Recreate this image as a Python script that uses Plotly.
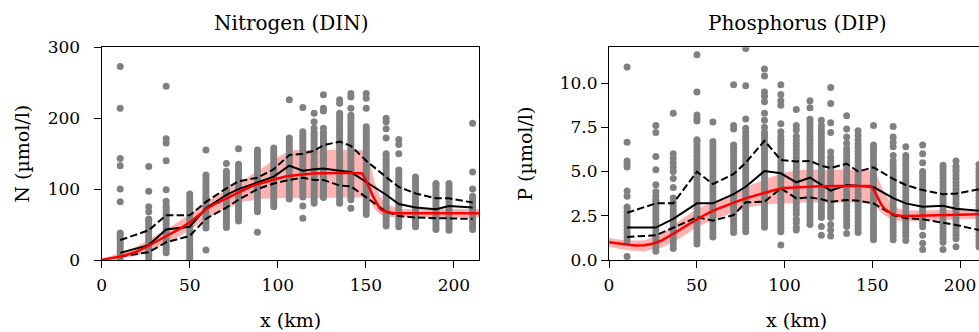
import plotly.graph_objects as go

# ---------------- data ----------------
n_stations = [10.5, 26.7, 36.6, 50.0, 59.2, 70.8, 77.7, 88.4, 97.7, 106.5, 114.2,
              120.6, 125.9, 135.1, 141.5, 150.2, 161.5, 168.7, 178.2, 189.8, 197.2, 210.6]
n_obs = [
    [0, 4, 8, 12, 16, 20, 24, 28, 32, 36, 38, 82, 100, 133, 143, 214, 273],
    [0, 4, 8, 12, 16, 20, 24, 28, 32, 36, 40, 44, 48, 52, 56, 58, 68, 75, 97, 132],
    [10, 14, 18, 22, 26, 30, 34, 38, 42, 46, 50, 54, 58, 62, 66, 70, 74, 77, 83, 99, 140, 165, 171, 245],
    [0, 4, 8, 12, 16, 20, 24, 28, 32, 36, 40, 44, 48, 52, 56, 60, 64, 68, 72, 76, 80, 84, 88, 93],
    [14, 45, 49, 53, 57, 61, 65, 69, 73, 77, 81, 85, 89, 93, 97, 101, 105, 109, 113, 117, 120, 155],
    [46, 50, 54, 58, 62, 66, 70, 74, 78, 82, 86, 90, 94, 98, 102, 106, 110, 114, 118, 122, 125, 136],
    [55, 59, 63, 67, 71, 75, 79, 83, 87, 91, 95, 99, 103, 107, 111, 115, 119, 123, 127, 131, 135, 157],
    [39, 68, 72, 76, 80, 84, 88, 92, 96, 100, 104, 108, 112, 116, 120, 124, 128, 132, 136, 140, 144, 148, 152, 155],
    [75, 79, 83, 87, 91, 95, 99, 103, 107, 111, 115, 119, 123, 127, 131, 135, 139, 143, 147, 151, 155, 158],
    [86, 90, 94, 98, 102, 106, 110, 114, 118, 122, 126, 130, 134, 138, 142, 146, 150, 154, 158, 162, 166, 170, 172, 226],
    [59, 76, 89, 93, 97, 101, 105, 109, 113, 117, 121, 125, 129, 133, 137, 141, 145, 149, 153, 157, 161, 165, 169, 173, 177, 181, 215],
    [80, 84, 88, 92, 96, 100, 104, 108, 112, 116, 120, 124, 128, 132, 136, 140, 144, 148, 152, 156, 160, 164, 168, 172, 176, 180, 186, 195, 207],
    [88, 92, 96, 100, 104, 108, 112, 116, 120, 124, 128, 132, 136, 140, 144, 148, 152, 156, 160, 164, 168, 172, 176, 180, 186, 210, 214, 233],
    [80, 84, 88, 92, 96, 100, 104, 108, 112, 116, 120, 124, 128, 132, 136, 140, 144, 148, 152, 156, 160, 164, 168, 172, 176, 180, 184, 188, 192, 196, 200, 204, 207, 221, 226],
    [73, 85, 89, 93, 97, 101, 105, 109, 113, 117, 121, 125, 129, 133, 137, 141, 145, 149, 153, 157, 161, 165, 169, 173, 177, 181, 185, 189, 193, 197, 201, 204, 214, 230, 235],
    [64, 68, 72, 76, 80, 84, 88, 92, 96, 100, 104, 108, 112, 116, 120, 124, 128, 132, 136, 140, 144, 148, 152, 156, 160, 164, 168, 172, 176, 180, 184, 188, 214, 228, 235],
    [48, 52, 56, 60, 64, 68, 72, 76, 80, 84, 88, 92, 96, 100, 104, 108, 112, 116, 120, 124, 128, 132, 136, 140, 144, 148, 150, 172, 185, 195, 200],
    [47, 51, 55, 59, 63, 67, 71, 75, 79, 83, 87, 91, 95, 99, 103, 107, 111, 115, 119, 123, 127, 150, 163, 170],
    [47, 51, 55, 59, 63, 67, 71, 75, 79, 83, 87, 91, 95, 99, 103, 107, 111, 115, 117],
    [43, 47, 51, 55, 59, 63, 67, 71, 75, 79, 83, 87, 91, 95, 99, 103, 106, 108],
    [42, 46, 50, 54, 58, 62, 66, 70, 74, 78, 82, 86, 90, 94, 98, 102, 106, 108],
    [43, 47, 51, 55, 59, 63, 67, 71, 75, 79, 83, 87, 90, 100, 124, 193],
]
n_median = [10, 21, 43, 47, 73, 92, 100, 109, 117.5, 133, 126, 128, 129, 126, 124, 110, 92, 79, 74, 71.5, 76, 74]
n_upper = [28, 42, 63, 63, 82, 101, 111, 116, 128, 148, 150, 154, 162, 167, 161, 140, 117, 103, 94, 87, 87, 81]
n_lower = [5, 11, 25, 34, 58, 74, 85, 100, 108, 113, 116, 113, 113, 105, 104, 88, 68, 62, 60, 59, 59, 58]

n_model_x = [0, 5, 10, 15, 20, 25, 30, 35, 40, 45, 50, 55, 60, 65, 70, 75, 80, 85, 90, 95, 100,
             105, 110, 115, 120, 125, 130, 140, 148, 150, 152, 154, 156, 158, 160, 163, 166, 170,
             180, 190, 200, 215]
n_model = [0, 2, 4.7, 8, 12, 18, 24.5, 31, 38, 45, 53, 63, 73, 80, 86, 92.5, 98.7, 104, 108, 112, 115,
           118, 120, 121, 122, 122.5, 123, 123, 122, 113, 102, 90, 80, 72, 69, 67, 66, 66,
           66, 66, 66, 66]
n_band_x = [0, 10, 20, 30, 40, 50, 60, 70, 80, 90, 100, 105, 110, 120, 130, 140, 148, 152, 155,
            158, 162, 170, 180, 200, 215]
n_band_hi = [2, 9, 19, 33, 48, 65, 83, 98, 112, 128, 145, 152, 155, 155, 155, 155, 155, 140, 110,
             90, 78, 72, 72, 72, 72]
n_band_lo = [0, 2, 6, 16, 28, 42, 60, 72, 82, 86, 87, 87, 87, 88, 88, 88, 88, 84, 72,
             64, 61, 60, 60, 60, 60]

p_stations = [10.3, 26.7, 36.6, 50.1, 59.2, 71.0, 77.9, 88.6, 97.9, 106.7, 114.5,
              121.0, 126.3, 135.4, 141.9, 150.7, 161.9, 169.1, 178.7, 190.3, 197.7, 210.8]
p_obs = [
    [0.2, 1.1, 1.3, 1.5, 1.7, 1.9, 2.1, 2.3, 2.5, 2.7, 2.9, 3.0, 3.6, 3.9, 5.25, 5.45, 5.6, 6.65, 10.9],
    [0.5, 0.7, 0.9, 1.1, 1.3, 1.5, 1.7, 1.9, 2.1, 2.3, 2.5, 2.7, 2.9, 3.1, 3.3, 3.4, 3.6, 3.85, 4.25, 5.1, 5.85, 7.2, 7.6],
    [0.65, 0.85, 1.05, 1.25, 1.45, 1.65, 1.85, 2.05, 2.25, 2.45, 2.65, 2.85, 3.05, 3.25, 3.5, 4.1, 4.6, 5.0, 5.25, 5.5, 5.75, 6.0, 8.3],
    [0.9, 1.1, 1.3, 1.5, 1.7, 1.9, 2.1, 2.3, 2.5, 2.7, 2.9, 3.1, 3.3, 3.5, 3.7, 3.9, 4.1, 4.3, 4.5, 4.7, 4.9, 5.1, 5.3, 5.5, 5.7, 5.9, 6.1, 6.3, 6.5, 6.7, 6.8, 7.85, 8.0, 8.2, 9.5, 11.6],
    [1.3, 1.5, 1.7, 1.9, 2.1, 2.3, 2.5, 2.7, 2.9, 3.1, 3.3, 3.5, 3.7, 3.9, 4.1, 4.3, 4.5, 4.7, 4.9, 5.1, 5.3, 5.5, 5.7, 5.9, 6.1, 6.3, 6.5, 6.7, 7.8],
    [1.55, 1.75, 1.95, 2.15, 2.35, 2.55, 2.75, 2.95, 3.15, 3.35, 3.55, 3.75, 3.95, 4.15, 4.35, 4.55, 4.75, 4.95, 5.15, 5.35, 5.55, 5.75, 5.95, 6.15, 6.35, 6.5, 7.4, 7.6, 9.9],
    [1.6, 1.8, 2.0, 2.2, 2.4, 2.6, 2.8, 3.0, 3.2, 3.4, 3.6, 3.8, 4.0, 4.2, 4.4, 4.6, 4.8, 5.0, 5.2, 5.4, 5.6, 5.8, 6.0, 6.2, 6.4, 6.6, 6.8, 7.0, 7.2, 7.45, 7.97, 9.85, 11.95],
    [1.85, 2.05, 2.25, 2.45, 2.65, 2.85, 3.05, 3.25, 3.45, 3.65, 3.85, 4.05, 4.25, 4.45, 4.65, 4.85, 5.05, 5.25, 5.45, 5.65, 5.85, 6.05, 6.25, 6.45, 6.65, 6.85, 7.05, 7.2, 7.5, 7.9, 8.3, 8.95, 9.25, 9.5, 10.4, 10.8],
    [0.85, 1.6, 1.8, 2.0, 2.2, 2.4, 2.6, 2.8, 3.0, 3.2, 3.4, 3.6, 3.8, 4.0, 4.2, 4.4, 4.6, 4.8, 5.0, 5.2, 5.4, 5.6, 5.8, 6.0, 6.2, 6.4, 6.6, 6.8, 7.0, 7.25, 7.7, 8.75, 9.0, 9.35, 9.9],
    [1.7, 1.85, 2.1, 2.3, 2.6, 2.8, 3.0, 3.2, 3.4, 3.6, 3.8, 4.0, 4.2, 4.4, 4.6, 4.8, 5.0, 5.2, 5.4, 5.6, 5.8, 6.0, 6.2, 6.4, 6.6, 6.8, 7.0, 7.35, 7.6, 8.5],
    [2.0, 2.2, 2.4, 2.6, 2.8, 3.0, 3.2, 3.4, 3.6, 3.8, 4.0, 4.2, 4.4, 4.6, 4.8, 5.0, 5.2, 5.4, 5.6, 5.8, 6.0, 6.2, 6.4, 6.6, 6.8, 7.0, 7.2, 7.4, 7.6, 7.8, 7.95, 8.6, 9.0],
    [1.4, 1.9, 2.4, 2.6, 2.8, 3.0, 3.2, 3.4, 3.6, 3.8, 4.0, 4.2, 4.4, 4.6, 4.8, 5.0, 5.2, 5.4, 5.6, 5.8, 6.0, 6.2, 6.4, 6.6, 6.8, 7.0, 7.2, 7.4, 7.6, 7.9],
    [1.35, 1.7, 2.0, 2.4, 2.6, 2.8, 3.0, 3.2, 3.4, 3.6, 3.8, 4.0, 4.2, 4.4, 4.6, 4.8, 5.0, 5.2, 5.4, 5.6, 5.8, 6.1, 7.2, 7.75, 8.85, 9.75],
    [1.5, 1.9, 2.1, 2.3, 2.5, 2.7, 2.9, 3.1, 3.3, 3.5, 3.7, 3.9, 4.1, 4.3, 4.5, 4.7, 4.9, 5.1, 5.3, 5.5, 5.7, 5.9, 6.1, 6.3, 6.6, 6.95, 7.4, 8.15],
    [1.55, 1.75, 1.95, 2.15, 2.35, 2.55, 2.75, 2.95, 3.15, 3.35, 3.55, 3.75, 3.95, 4.15, 4.35, 4.55, 4.75, 4.95, 5.15, 5.35, 5.55, 5.75, 5.95, 6.15, 6.35, 6.55, 6.8, 7.05, 7.3],
    [1.15, 1.35, 1.55, 1.75, 1.95, 2.15, 2.35, 2.55, 2.75, 2.95, 3.15, 3.35, 3.55, 3.75, 3.95, 4.15, 4.35, 4.55, 4.75, 4.95, 5.15, 5.35, 5.55, 5.75, 5.95, 6.15, 6.35, 6.5, 7.6],
    [1.15, 1.35, 1.55, 1.75, 1.95, 2.15, 2.35, 2.55, 2.75, 2.95, 3.15, 3.35, 3.55, 3.75, 3.95, 4.15, 4.35, 4.55, 4.75, 4.95, 5.15, 5.35, 5.6, 5.9, 6.4, 6.65, 6.95, 7.55],
    [1.1, 1.35, 1.55, 1.75, 1.95, 2.15, 2.35, 2.55, 2.75, 2.95, 3.15, 3.35, 3.55, 3.75, 3.95, 4.15, 4.35, 4.55, 4.75, 4.95, 5.15, 5.35, 5.55, 5.75, 5.9, 6.4],
    [0.6, 0.94, 1.4, 1.88, 2.08, 2.28, 2.48, 2.68, 2.88, 3.08, 3.28, 3.48, 3.68, 3.88, 4.08, 4.28, 4.48, 4.68, 4.88, 5.0, 5.5, 6.0, 6.5],
    [0.6, 1.0, 1.2, 1.4, 1.6, 1.8, 2.0, 2.2, 2.4, 2.6, 2.8, 3.0, 3.2, 3.4, 3.6, 3.8, 4.0, 4.2, 4.4, 4.6, 4.8, 5.0, 5.2, 5.35],
    [0.75, 1.2, 1.4, 1.6, 1.8, 2.0, 2.2, 2.4, 2.6, 2.8, 3.0, 3.2, 3.4, 3.6, 3.8, 4.0, 4.2, 4.4, 4.6, 4.8, 5.0, 5.15, 5.3, 5.6],
    [0.75, 0.95, 1.15, 1.35, 1.55, 1.75, 1.95, 2.15, 2.35, 2.55, 2.75, 2.95, 3.15, 3.35, 3.55, 3.75, 3.95, 4.15, 4.35, 4.55, 4.75, 4.95, 5.15, 5.4],
]
p_median = [1.83, 1.83, 2.32, 3.2, 3.2, 3.72, 4.14, 5.03, 4.9, 4.39, 4.65, 4.24, 3.92, 4.24, 4.2, 4.12, 3.5, 3.2, 3.01, 3.06, 2.9, 2.79]
p_upper = [2.67, 3.2, 3.2, 4.99, 4.29, 4.86, 5.5, 6.74, 5.65, 5.57, 5.6, 5.33, 5.2, 5.44, 5.0, 5.24, 4.58, 4.24, 3.95, 3.72, 3.75, 4.0]
p_lower = [1.3, 1.4, 1.82, 2.42, 2.22, 2.54, 3.26, 3.29, 4.05, 3.48, 3.54, 3.43, 3.29, 3.39, 3.35, 3.2, 2.54, 2.36, 2.3, 2.11, 1.98, 1.69]

p_model_x = [0, 5, 10, 15, 20, 25, 30, 35, 40, 45, 50, 55, 60, 65, 70, 75, 80, 85, 90, 95, 100,
             110, 120, 130, 140, 149, 151, 153, 155, 157, 160, 163, 166, 170, 180, 200, 215]
p_model = [1.0, 0.93, 0.86, 0.82, 0.84, 0.92, 1.1, 1.38, 1.68, 2.0, 2.3, 2.57, 2.82, 3.02, 3.2,
           3.38, 3.55, 3.7, 3.85, 3.97, 4.07, 4.14, 4.17, 4.18, 4.18, 4.18, 3.95, 3.55, 3.15,
           2.9, 2.68, 2.55, 2.5, 2.48, 2.5, 2.56, 2.6]
p_band_x = [0, 10, 20, 30, 40, 50, 60, 70, 80, 90, 100, 110, 120, 130, 140, 148, 152, 156, 160,
            165, 170, 180, 200, 215]
p_band_hi = [1.25, 1.1, 1.1, 1.5, 2.2, 2.9, 3.3, 3.7, 4.2, 4.6, 4.95, 5.1, 5.1, 5.1, 5.1, 5.1,
             4.9, 4.0, 3.3, 2.9, 2.8, 2.8, 2.85, 2.85]
p_band_lo = [0.75, 0.55, 0.5, 0.7, 1.2, 1.85, 2.3, 2.65, 3.0, 3.15, 3.2, 3.25, 3.25, 3.25, 3.25,
             3.25, 3.0, 2.6, 2.35, 2.2, 2.2, 2.2, 2.3, 2.35]

titles = ["Nitrogen (DIN)", "Phosphorus (DIP)"]
ylabels = ["N (µmol/l)", "P (µmol/l)"]
xlabel = "x (km)"

# ---------------- figure ----------------
W, H = 979, 332
FONT = "DejaVu Serif"
fig = go.Figure()


def add_panel(xa, ya, stations, obs, med, hi, lo, mx, my, bx, bhi, blo):
    fig.add_trace(go.Scatter(x=bx, y=blo, mode="lines", line=dict(width=0), xaxis=xa, yaxis=ya,
                             hoverinfo="skip", showlegend=False))
    fig.add_trace(go.Scatter(x=bx, y=bhi, mode="lines", line=dict(width=0), fill="tonexty",
                             fillcolor="rgba(255,0,0,0.3)", xaxis=xa, yaxis=ya, showlegend=False))
    xs, ys = [], []
    for s, vals in zip(stations, obs):
        xs += [s] * len(vals)
        ys += vals
    fig.add_trace(go.Scatter(x=xs, y=ys, mode="markers", xaxis=xa, yaxis=ya, showlegend=False,
                             marker=dict(size=7, color="#808080", line=dict(width=0))))
    for arr, dash in [(hi, "7.4px,3.2px"), (lo, "7.4px,3.2px"), (med, "solid")]:
        fig.add_trace(go.Scatter(x=stations, y=arr, mode="lines", xaxis=xa, yaxis=ya, showlegend=False,
                                 line=dict(color="black", width=2, dash=dash)))
    fig.add_trace(go.Scatter(x=mx, y=my, mode="lines", xaxis=xa, yaxis=ya, showlegend=False,
                             line=dict(color="#ff0000", width=2.5)))


add_panel("x", "y", n_stations, n_obs, n_median, n_upper, n_lower, n_model_x, n_model,
          n_band_x, n_band_hi, n_band_lo)
add_panel("x2", "y2", p_stations, p_obs, p_median, p_upper, p_lower, p_model_x, p_model,
          p_band_x, p_band_hi, p_band_lo)

axis_common = dict(showline=True, linecolor="black", linewidth=1.2, ticks="outside", ticklen=7,
                   tickwidth=1.2, tickcolor="black", showgrid=False, zeroline=False,
                   automargin=False,
                   tickfont=dict(family=FONT, size=17, color="black"))

ydom = [(H - 260) / H, (H - 47.3) / H]
fig.update_layout(
    width=W, height=H, margin=dict(l=0, r=0, t=0, b=0, pad=0, autoexpand=False),
    paper_bgcolor="white", plot_bgcolor="white",
    xaxis=dict(domain=[101.7 / W, 479.3 / W], range=[0, 214.4], tickvals=[0, 50, 100, 150, 200],
               mirror=True, anchor="y", ticklabelstandoff=2, **axis_common),
    yaxis=dict(domain=ydom, range=[0, 300], tickvals=[0, 100, 200, 300], mirror=True,
               anchor="x", ticklabelstandoff=10, **axis_common),
    xaxis2=dict(domain=[609 / W, 1.0], range=[0, 210.8], tickvals=[0, 50, 100, 150, 200],
                mirror=True, anchor="y2", ticklabelstandoff=2, **axis_common),
    yaxis2=dict(domain=ydom, range=[0, 12.02], tickvals=[0, 2.5, 5, 7.5, 10], tickformat=".1f",
                mirror=False, anchor="x2", **axis_common),
)

ann_font_t = dict(family=FONT, size=20, color="black")
ann_font_l = dict(family=FONT, size=19, color="black")
anns = [
    dict(text=titles[0], x=290.5 / W, y=(H - 23) / H, font=ann_font_t),
    dict(text=titles[1], x=796.5 / W, y=(H - 23) / H, font=ann_font_t),
    dict(text=xlabel, x=290.5 / W, y=(H - 320) / H, font=ann_font_l),
    dict(text=xlabel, x=796.5 / W, y=(H - 320) / H, font=ann_font_l),
    dict(text=ylabels[0], x=22 / W, y=(H - 153.7) / H, font=ann_font_l, textangle=-90),
    dict(text=ylabels[1], x=525 / W, y=(H - 153.7) / H, font=ann_font_l, textangle=-90),
]
for a in anns:
    fig.add_annotation(xref="paper", yref="paper", xanchor="center", yanchor="middle",
                       showarrow=False, **a)

fig.write_html("out.html", config={"displayModeBar": False},
               post_script="document.body.style.margin='0';document.body.style.overflow='hidden';")
